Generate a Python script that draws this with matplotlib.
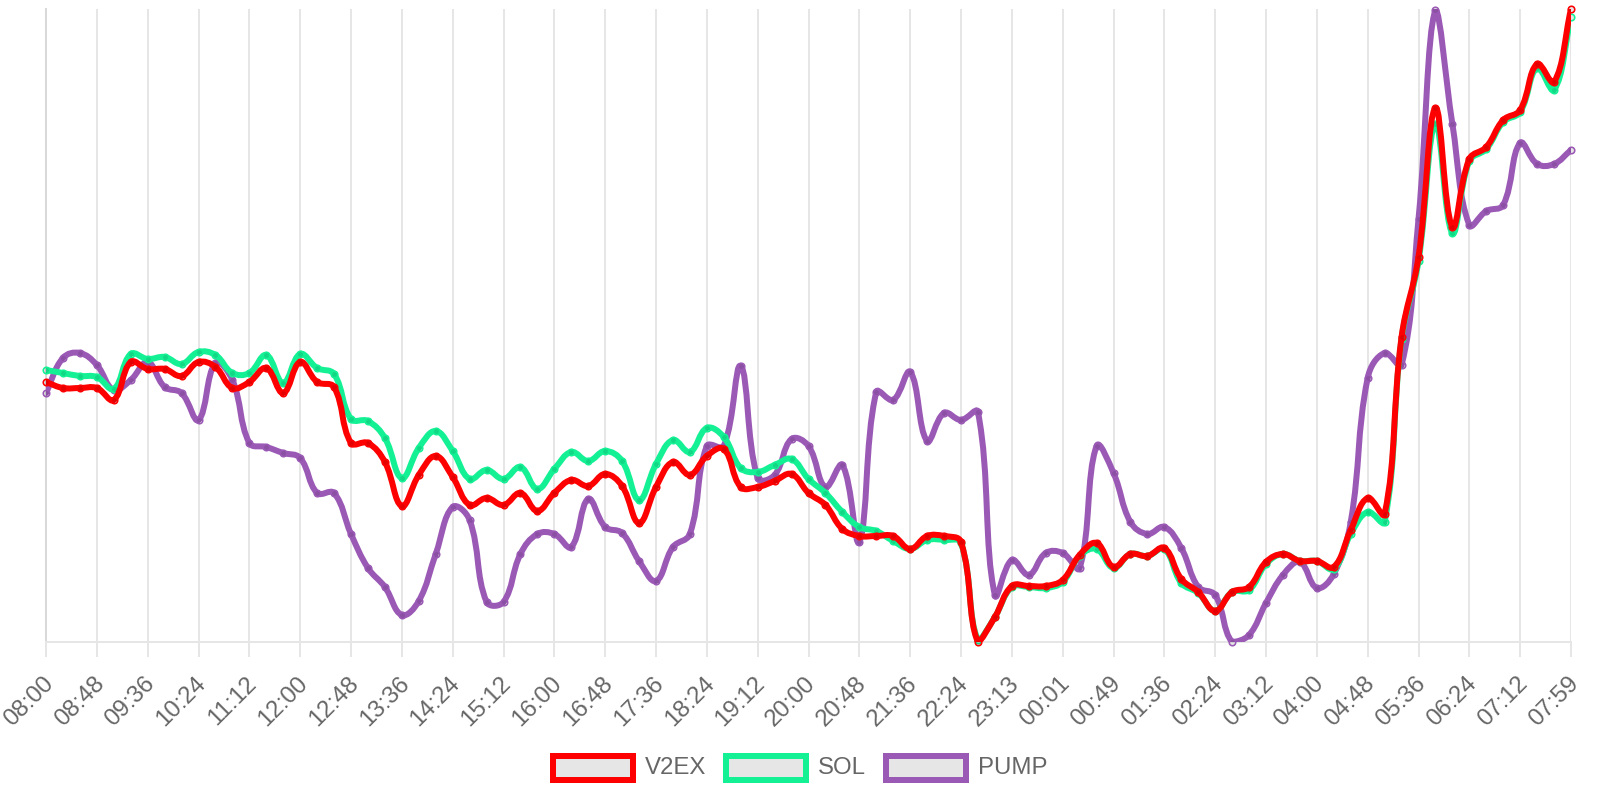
import numpy as np
import matplotlib
matplotlib.use("Agg")
import matplotlib.pyplot as plt
from matplotlib.path import Path
from matplotlib.patches import PathPatch, Rectangle
import matplotlib.transforms as mtransforms

# ---------------- data ----------------
tick_labels = ["08:00", "08:48", "09:36", "10:24", "11:12", "12:00", "12:48", "13:36",
               "14:24", "15:12", "16:00", "16:48", "17:36", "18:24", "19:12", "20:00",
               "20:48", "21:36", "22:24", "23:13", "00:01", "00:49", "01:36", "02:24",
               "03:12", "04:00", "04:48", "05:36", "06:24", "07:12", "07:59"]

v2ex = [260, 254, 254, 254, 242, 280, 273, 273, 266, 280, 275, 254, 260, 274, 249, 280,
        260, 255, 199, 199, 180, 136, 167, 186, 165, 137, 144, 137, 149, 131, 149, 162,
        156, 168, 156, 119, 155, 180, 167, 186, 193, 155, 155, 161, 168, 149, 137, 113,
        106, 106, 106, 93, 106, 106, 100, 0, 25, 56, 56, 56, 62, 87, 99, 75,
        88, 86, 94, 63, 50, 31, 50, 55, 80, 88, 81, 81, 75, 112, 144, 128,
        305, 385, 534, 415, 483, 495, 522, 532, 578, 560, 633]

sol = [272, 269, 266, 265, 253, 288, 283, 285, 278, 290, 287, 269, 269, 287, 259, 288,
       274, 268, 223, 221, 204, 164, 194, 211, 191, 163, 172, 163, 175, 153, 173, 190,
       181, 191, 181, 142, 178, 202, 190, 214, 205, 174, 170, 177, 183, 163, 149, 130,
       115, 111, 101, 93, 102, 102, 99, 2, 25, 55, 55, 54, 60, 86, 93, 74,
       88, 86, 93, 59, 49, 31, 50, 52, 78, 88, 81, 81, 73, 108, 130, 120,
       303, 381, 518, 409, 481, 493, 520, 530, 574, 552, 625]

pump = [249, 284, 289, 277, 252, 262, 280, 255, 249, 222, 279, 262, 199, 195, 189, 184,
        149, 149, 108, 74, 55, 27, 41, 88, 135, 122, 40, 40, 88, 108, 108, 95,
        143, 115, 109, 81, 61, 95, 108, 196, 196, 276, 164, 167, 203, 196, 155, 177,
        100, 250, 242, 270, 201, 229, 222, 230, 47, 82, 67, 89, 89, 74, 196, 169,
        120, 108, 115, 94, 55, 47, 0, 7, 39, 67, 80, 54, 68, 120, 264, 289,
        277, 423, 632, 518, 417, 431, 437, 499, 478, 478, 492]

series_names = ["V2EX", "SOL", "PUMP"]
series_values = [v2ex, sol, pump]
series_colors = ["#ff0000", "#14f195", "#9b59b6"]

# ---------------- layout ----------------
W, H, DPI = 1600, 800, 100
PL, PR, PT, PB = 46, 1571, 9, 642   # plot area in pixels (from top-left)
fig = plt.figure(figsize=(W / DPI, H / DPI), dpi=DPI)
ax = fig.add_axes([PL / W, 1 - PB / H, (PR - PL) / W, (PB - PT) / H])

n = len(v2ex)
xs = np.arange(n, dtype=float)
allv = np.concatenate([np.asarray(s, float) for s in series_values])
ymin, ymax = allv.min(), allv.max()
ax.set_xlim(0, n - 1)
ax.set_ylim(ymin, ymax)

sx = (PR - PL) / (n - 1)
sy = (PB - PT) / (ymax - ymin)
AW, AH = PR - PL, PB - PT


def spline_path(xd, yd, tension=0.4):
    px = xd * sx
    py = (np.asarray(yd, float) - ymin) * sy
    m = len(px)
    cp_prev = np.zeros((m, 2))
    cp_next = np.zeros((m, 2))
    for i in range(m):
        pi = max(i - 1, 0)
        ni = min(i + 1, m - 1)
        d01 = np.hypot(px[i] - px[pi], py[i] - py[pi])
        d12 = np.hypot(px[ni] - px[i], py[ni] - py[i])
        tot = d01 + d12
        s01 = d01 / tot if tot > 0 else 0
        s12 = d12 / tot if tot > 0 else 0
        fa, fb = tension * s01, tension * s12
        dx, dy = px[ni] - px[pi], py[ni] - py[pi]
        cp_prev[i] = (px[i] - fa * dx, py[i] - fa * dy)
        cp_next[i] = (px[i] + fb * dx, py[i] + fb * dy)
    cp_prev[:, 0] = np.clip(cp_prev[:, 0], 0, AW)
    cp_next[:, 0] = np.clip(cp_next[:, 0], 0, AW)
    cp_prev[:, 1] = np.clip(cp_prev[:, 1], 0, AH)
    cp_next[:, 1] = np.clip(cp_next[:, 1], 0, AH)
    verts = [(px[0], py[0])]
    codes = [Path.MOVETO]
    for i in range(m - 1):
        verts += [tuple(cp_next[i]), tuple(cp_prev[i + 1]), (px[i + 1], py[i + 1])]
        codes += [Path.CURVE4] * 3
    verts = np.array(verts)
    verts[:, 0] = verts[:, 0] / sx
    verts[:, 1] = verts[:, 1] / sy + ymin
    return Path(verts, codes)


px2pt = 72.0 / DPI
z = 10
for name, vals, col in reversed(list(zip(series_names, series_values, series_colors))):
    patch = PathPatch(spline_path(xs, vals), facecolor="none", edgecolor=col,
                      lw=6 * px2pt, capstyle="round", joinstyle="round", zorder=z)
    ax.add_patch(patch)
    ax.plot(xs, vals, "o", ms=6.5 * px2pt, mfc=(0, 0, 0, 0.1), mec=col,
            mew=1.6 * px2pt, zorder=z + 1, clip_on=False)
    z += 2

# ---------------- axes styling ----------------
tick_pos = list(range(0, n, 3))
ax.set_xticks(tick_pos)
ax.set_xticklabels(tick_labels, rotation=45, ha="right", va="center",
                   rotation_mode="anchor", fontsize=24 * px2pt, color="#666666",
                   family="Liberation Sans")
ax.tick_params(axis="x", length=15 * px2pt, width=2 * px2pt, color="#e6e6e6",
               pad=23 * px2pt)
ax.set_yticks([])
ax.grid(axis="x", color="#e6e6e6", lw=2 * px2pt, zorder=0)
ax.set_axisbelow(True)
for s in ["top", "right"]:
    ax.spines[s].set_visible(False)
ax.spines["left"].set_color("#d9d9d9")
ax.spines["left"].set_linewidth(2 * px2pt)
ax.spines["bottom"].set_color("#e6e6e6")
ax.spines["bottom"].set_linewidth(2 * px2pt)

offset = mtransforms.ScaledTranslation(4 / DPI, 0, fig.dpi_scale_trans)
for lab in ax.get_xticklabels():
    lab.set_transform(lab.get_transform() + offset)

# ---------------- legend (Chart.js style) ----------------
renderer = fig.canvas.get_renderer()
box_w, box_h, gap, pad = 80, 24, 12, 20
legend_cy = 768
texts = []
widths = []
for name in series_names:
    t = fig.text(0, 1 - legend_cy / H, name, fontsize=24 * px2pt, color="#666666",
                 family="Liberation Sans", va="center", ha="left")
    widths.append(t.get_window_extent(renderer).width)
    texts.append(t)
total = sum(box_w + gap + w for w in widths) + pad * (len(widths) - 1)
x0 = W / 2 - total / 2
for t, w, col in zip(texts, widths, series_colors):
    rect = Rectangle((x0 / W, 1 - (legend_cy + box_h / 2) / H), box_w / W, box_h / H,
                     transform=fig.transFigure, facecolor="#e6e6e6", edgecolor=col,
                     lw=6 * px2pt, joinstyle="miter")
    fig.patches.append(rect)
    t.set_x((x0 + box_w + gap) / W)
    x0 += box_w + gap + w + pad

fig.savefig("out.png", dpi=DPI)
